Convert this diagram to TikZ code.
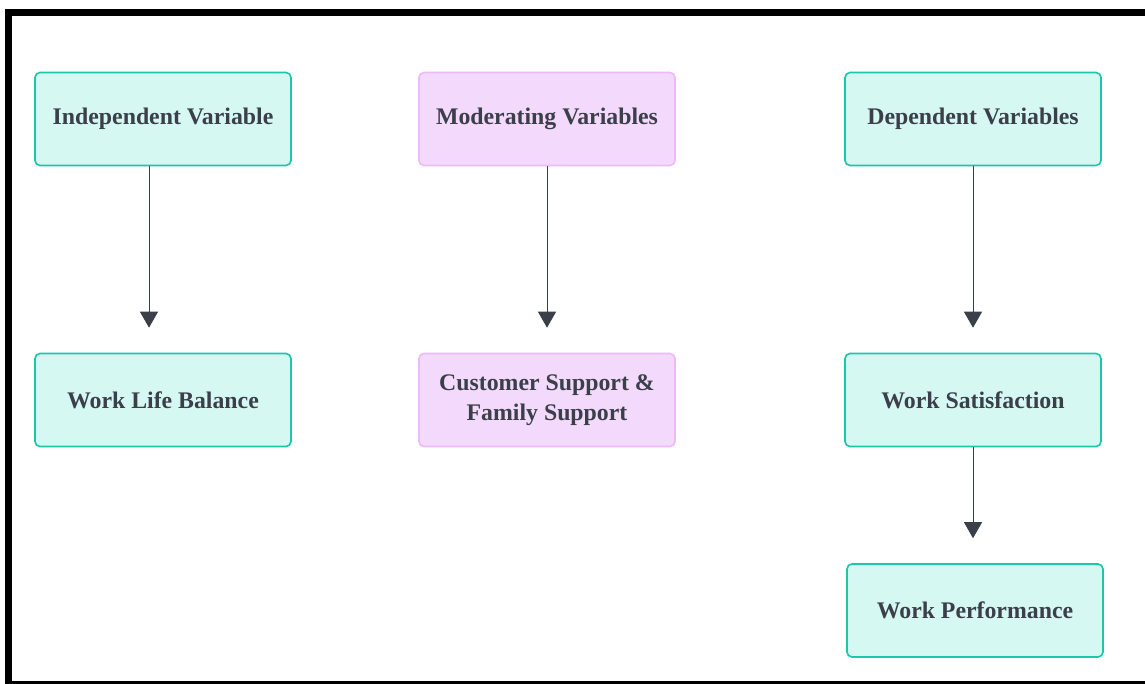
\documentclass[tikz,border=0pt]{standalone}
\usepackage{fontspec}
\setmainfont{Liberation Serif}
\usetikzlibrary{arrows.meta}
\definecolor{tealfill}{HTML}{D6F8F2}
\definecolor{tealline}{HTML}{1CC6A8}
\definecolor{purpfill}{HTML}{F3D9FC}
\definecolor{purpline}{HTML}{EDB9F9}
\definecolor{txt}{HTML}{3A3F4A}
\tikzset{
  box/.style={draw=tealline, fill=tealfill, line width=1.6pt, rounded corners=5pt,
    minimum width=256pt, minimum height=93pt, inner sep=0pt, align=center,
    font=\fontsize{23.8}{30}\selectfont\bfseries, text=txt},
  pbox/.style={box, draw=purpline, fill=purpfill},
  conn/.style={draw=txt, line width=1pt, -{Triangle[width=18pt,length=16pt]}, shorten >=25pt}
}
\begin{document}
\begin{tikzpicture}[x=1pt,y=-1pt]
\useasboundingbox (0,0) rectangle (1145,684);
\fill[white] (0,0) rectangle (1145,684);
% frame
\fill[black] (5,9) rectangle (1145,16);
\fill[black] (5,9) rectangle (12,684);
\fill[black] (5,681) rectangle (1145,684);
% nodes
\node[box]  (iv)  at (163,119) {Independent Variable};
\node[pbox] (mv)  at (547,119) {Moderating Variables};
\node[box]  (dv)  at (973,119) {Dependent Variables};
\node[box]  (wlb) at (163,400) {Work Life Balance};
\node[pbox] (cs)  at (547,400) {Customer Support \&\\Family Support};
\node[box]  (ws)  at (973,400) {Work Satisfaction};
\node[box]  (wp)  at (975,610.5) {Work Performance};
% connectors
\draw[conn] ([xshift=-14pt]iv.south) -- ([xshift=-14pt]wlb.north);
\draw[conn] (mv.south) -- (cs.north);
\draw[conn] (dv.south) -- (dv.south |- wlb.north);
\draw[conn] (ws.south) -- (ws.south |- wp.north);
\end{tikzpicture}
\end{document}
